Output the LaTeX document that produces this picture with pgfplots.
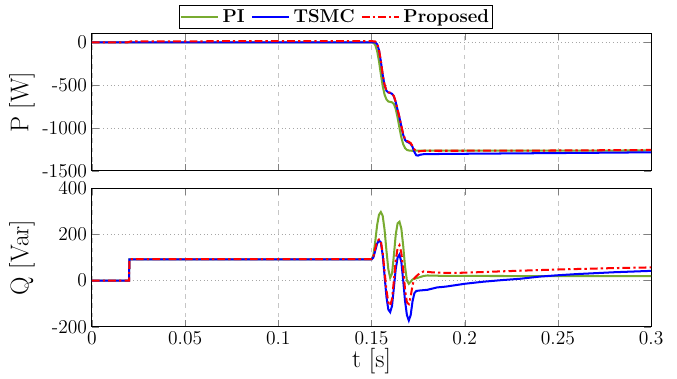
\documentclass[border=0pt]{standalone}
\usepackage{pgfplots}
\pgfplotsset{compat=1.18}
\definecolor{cgreen}{rgb}{0.47,0.67,0.19}
\begin{document}
\begin{tikzpicture}
\path[use as bounding box] (-59.3pt,-33.1pt) rectangle (377.3pt,210.7pt);
\pgfplotsset{
  myax/.style={
    scale only axis, width=360.6pt,
    xmin=0, xmax=0.3,
    xtick={0,0.05,0.1,0.15,0.2,0.25,0.3},
    tick align=inside, tick pos=both,
    grid=major,
    x grid style={dashed, gray!45, line width=0.5pt},
    y grid style={dotted, gray!70, line width=0.5pt},
    axis line style={line width=0.7pt},
    scaled y ticks=false,
    tick label style={font=\fontsize{12.6}{13}\selectfont, inner sep=1pt},
    yticklabel style={xshift=-2pt},
    xticklabel style={yshift=-2pt},
    every axis plot/.append style={line width=1.3pt},
    ylabel style={at={(axis description cs:-0.125,0.5)}, anchor=center, font=\fontsize{16.5}{18}\selectfont},
    legend image code/.code={\draw[#1] (0cm,0cm) -- (0.85cm,0cm);},
  }
}
\begin{axis}[myax, height=89.3pt, at={(0,0)},
  ymin=-200, ymax=400, ytick={-200,0,200,400},
  yticklabels={-200,0,200,400},
  xticklabels={0,0.05,0.1,0.15,0.2,0.25,0.3},
  ylabel={Q [Var]}, xlabel={t [s]}, xlabel style={font=\fontsize{16.5}{18}\selectfont, inner sep=1pt, yshift=0pt}]
\addplot[cgreen] coordinates {(0,0)(0.0199,0)(0.0201,92)(0.15,92)(0.151,110)(0.152,170)(0.153,240)(0.154,285)(0.155,297)(0.156,280)(0.157,220)(0.158,130)(0.159,50)(0.160,12)(0.161,30)(0.162,110)(0.163,200)(0.164,248)(0.165,255)(0.166,225)(0.167,150)(0.168,60)(0.169,0)(0.170,-14)(0.171,-5)(0.172,5)(0.174,10)(0.176,15)(0.178,20)(0.18,22)(0.19,20)(0.3,19)};
\addplot[blue] coordinates {(0,0)(0.0199,0)(0.0201,92)(0.15,92)(0.151,100)(0.152,130)(0.153,160)(0.154,174)(0.155,165)(0.156,110)(0.157,20)(0.158,-70)(0.159,-125)(0.160,-137)(0.161,-110)(0.162,-30)(0.163,50)(0.164,100)(0.165,113)(0.166,80)(0.167,0)(0.168,-90)(0.169,-150)(0.170,-173)(0.171,-150)(0.172,-90)(0.173,-55)(0.174,-45)(0.176,-43)(0.18,-40)(0.185,-30)(0.19,-26)(0.2,-14)(0.21,-5)(0.22,2)(0.23,8)(0.24,17)(0.25,23)(0.26,28)(0.27,32)(0.28,36)(0.29,39)(0.3,42)};
\addplot[red, dash pattern=on 5pt off 2pt on 1.5pt off 2pt] coordinates {(0,0)(0.0199,0)(0.0201,93)(0.15,93)(0.151,105)(0.152,140)(0.153,170)(0.154,178)(0.155,170)(0.156,120)(0.157,40)(0.158,-40)(0.159,-95)(0.160,-109)(0.161,-80)(0.162,0)(0.163,90)(0.164,140)(0.165,153)(0.166,120)(0.167,50)(0.168,-40)(0.169,-95)(0.170,-102)(0.171,-70)(0.172,-20)(0.173,10)(0.175,26)(0.178,40)(0.182,36)(0.19,33)(0.2,34)(0.22,40)(0.25,48)(0.28,54)(0.3,57)};
\end{axis}
\begin{axis}[myax, height=88.4pt, at={(0,100.5pt)},
  ymin=-1500, ymax=100, ytick={-1500,-1000,-500,0},
  yticklabels={-1500,-1000,-500,0},
  xticklabels={},
  ylabel={P [W]},
  legend columns=3,
  legend style={at={(axis description cs:0.4365,1)}, anchor=south, yshift=3.2pt,
    font=\large\bfseries, draw=black, line width=0.5pt, inner sep=0.5pt,
    /tikz/every even column/.append style={column sep=2pt}}]
\addplot[cgreen] coordinates {(0,0)(0.150,0)(0.151,-5)(0.152,-30)(0.153,-100)(0.154,-220)(0.155,-370)(0.156,-510)(0.157,-610)(0.158,-665)(0.159,-690)(0.160,-695)(0.161,-700)(0.162,-720)(0.163,-780)(0.164,-880)(0.165,-1000)(0.166,-1110)(0.167,-1190)(0.168,-1235)(0.169,-1255)(0.170,-1262)(0.172,-1266)(0.175,-1264)(0.3,-1262)};
\addlegendentry{PI}
\addplot[blue] coordinates {(0,0)(0.152,0)(0.153,-20)(0.154,-90)(0.155,-220)(0.156,-380)(0.157,-500)(0.158,-565)(0.159,-585)(0.160,-590)(0.161,-600)(0.162,-630)(0.163,-700)(0.164,-790)(0.165,-880)(0.166,-980)(0.167,-1080)(0.168,-1140)(0.169,-1160)(0.170,-1170)(0.171,-1185)(0.172,-1220)(0.173,-1280)(0.174,-1318)(0.175,-1322)(0.176,-1312)(0.178,-1305)(0.19,-1302)(0.22,-1297)(0.25,-1292)(0.28,-1287)(0.3,-1283)};
\addlegendentry{TSMC}
\addplot[red, dash pattern=on 5pt off 2pt on 1.5pt off 2pt] coordinates {(0,0)(0.019,0)(0.021,12)(0.15,15)(0.152,10)(0.153,-15)(0.154,-85)(0.155,-215)(0.156,-375)(0.157,-495)(0.158,-560)(0.159,-582)(0.160,-588)(0.161,-598)(0.162,-628)(0.163,-695)(0.164,-785)(0.165,-875)(0.166,-975)(0.167,-1070)(0.168,-1130)(0.169,-1150)(0.170,-1160)(0.171,-1175)(0.172,-1210)(0.173,-1250)(0.174,-1270)(0.175,-1275)(0.176,-1270)(0.178,-1265)(0.2,-1265)(0.25,-1262)(0.3,-1256)};
\addlegendentry{Proposed}
\end{axis}
\end{tikzpicture}
\end{document}
